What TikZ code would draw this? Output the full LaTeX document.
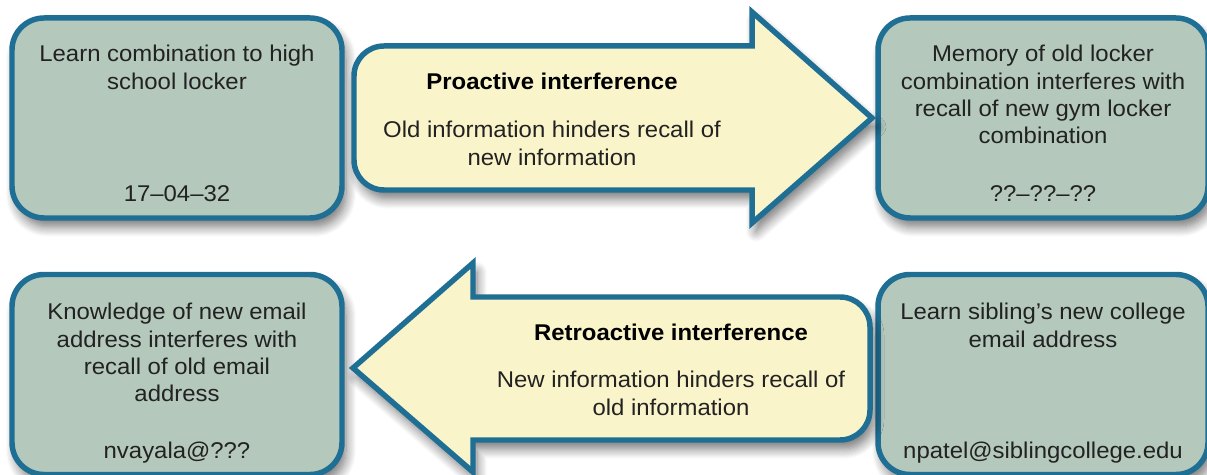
\documentclass[tikz,border=0pt]{standalone}
\usepackage{fontspec}
\setmainfont{Liberation Sans}[FakeStretch=1.05]
\usepackage{tikz}
\usetikzlibrary{shadows.blur}

\definecolor{boxFill}{HTML}{B4C8BC}
\definecolor{edgeBlue}{HTML}{1F6F95}
\definecolor{arrowFill}{HTML}{FAF4CB}
\definecolor{inkGray}{HTML}{222222}

\begin{document}
\begin{tikzpicture}[
    font=\fontsize{16.2}{19.4}\selectfont,
    memBox/.style={
        rectangle, rounded corners=0.8cm, draw=edgeBlue, line width=3.9pt,
        fill=boxFill, minimum width=8.25cm, minimum height=5.0cm, inner sep=0pt,
        blur shadow={shadow xshift=0.1cm, shadow yshift=-0.22cm, shadow blur radius=0.25cm, shadow blur steps=10, shadow opacity=55}
    },
    bigArrow/.style={
        draw=edgeBlue, line width=3.9pt, fill=arrowFill, line join=miter,
        blur shadow={shadow xshift=0.1cm, shadow yshift=-0.22cm, shadow blur radius=0.25cm, shadow blur steps=10, shadow opacity=55}
    },
    boxText/.style={
        anchor=north, align=center, inner sep=0pt, text=inkGray,
        execute at begin node=\strut
    },
    arrowTitle/.style={
        boxText, font=\fontsize{16.2}{19.4}\selectfont\bfseries, text=black
    }
]

\useasboundingbox (0,0) rectangle (30.175,11.875);

% Memory boxes
\node[memBox] (oldCombo) at (4.425, 8.925) {};
\node[memBox] (newCombo) at (26.075, 8.925) {};
\node[memBox] (newEmail) at (4.425, 2.5125) {};
\node[memBox] (siblingEmail) at (26.075, 2.5125) {};

% Proactive arrow (points right)
\draw[bigArrow] (9.6,10.725) -- (18.8,10.725) -- (18.8,11.575) -- (21.8,8.925)
    -- (18.8,6.3) -- (18.8,7.125) -- (9.6,7.125)
    arc[start angle=270, end angle=180, radius=0.75cm] -- (8.85,9.975)
    arc[start angle=180, end angle=90, radius=0.75cm] -- cycle;

% Retroactive arrow (points left)
\draw[bigArrow] (11.825,4.45) -- (21.0,4.45)
    arc[start angle=90, end angle=0, radius=0.75cm] -- (21.75,1.625)
    arc[start angle=0, end angle=-90, radius=0.75cm] -- (11.825,0.875)
    -- (11.825,0.075) -- (8.825,2.675) -- (11.825,5.3) -- cycle;

% Box texts
\node[boxText] (oldComboTxt) at (4.425, 10.75) {Learn combination to high\\school locker};
\node[boxText] (oldComboNum) at (4.425, 7.32) {17--04--32};

\node[boxText] (newComboTxt) at (26.075, 10.75) {Memory of old locker\\combination interferes with\\recall of new gym locker\\combination};
\node[boxText] (newComboNum) at (26.075, 7.32) {??--??--??};

\node[boxText] (newEmailTxt) at (4.425, 4.30) {Knowledge of new email\\address interferes with\\recall of old email\\address};
\node[boxText] (newEmailAddr) at (4.425, 0.90) {nvayala@???};

\node[boxText] (siblingTxt) at (26.075, 4.30) {Learn sibling's new college\\email address};
\node[boxText] (siblingAddr) at (26.075, 0.90) {npatel@siblingcollege.edu};

% Arrow texts
\node[arrowTitle] (proTitle) at (13.8, 10.12) {Proactive interference};
\node[boxText] (proText) at (13.8, 8.85) {Old information hinders recall of\\new information};

\node[arrowTitle] (retroTitle) at (16.775, 3.84) {Retroactive interference};
\node[boxText] (retroText) at (16.775, 2.60) {New information hinders recall of\\old information};

\end{tikzpicture}
\end{document}
